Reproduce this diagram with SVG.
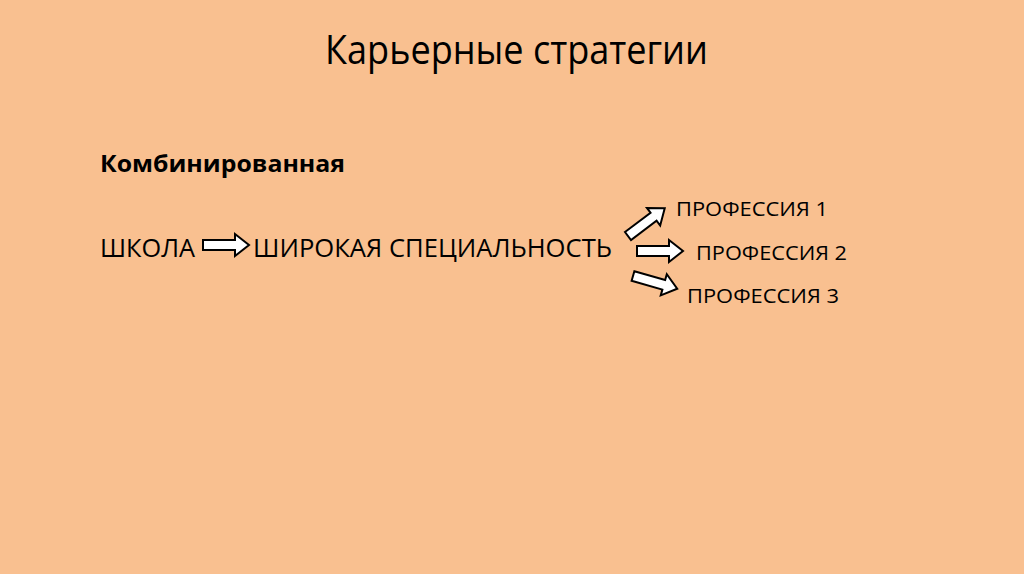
<svg xmlns="http://www.w3.org/2000/svg" xmlns:xlink="http://www.w3.org/1999/xlink" width="1024" height="574" viewBox="0 0 1024 574">
<style>
text{font-family:"Open Sans","Noto Sans","Liberation Sans",sans-serif;fill:#000}
.t{font-size:40px}
.b{font-size:23px;font-weight:bold}
.m{font-size:25px}
.s{font-size:19.5px}
.arr{fill:#fff;stroke:#000;stroke-width:2;stroke-linejoin:miter}
</style>
<defs>
<path id="ar" d="M0,-5 L32,-5 L32,-11 L46,0 L32,11 L32,5 L0,5 Z"/>
</defs>
<rect width="1024" height="574" fill="#F9C090"/>
<g id="title"><text class="t" x="325" y="64" textLength="383" lengthAdjust="spacingAndGlyphs">Карьерные стратегии</text></g>
<g id="subtitle"><text class="b" x="100" y="172" textLength="245" lengthAdjust="spacingAndGlyphs">Комбинированная</text></g>
<g id="school"><text class="m" x="100" y="257" textLength="95" lengthAdjust="spacingAndGlyphs">ШКОЛА</text></g>
<g id="broad"><text class="m" x="253" y="257" textLength="359" lengthAdjust="spacingAndGlyphs">ШИРОКАЯ СПЕЦИАЛЬНОСТЬ</text></g>
<g id="p1"><text class="s" x="676" y="216" textLength="152" lengthAdjust="spacingAndGlyphs">ПРОФЕССИЯ 1</text></g>
<g id="p2"><text class="s" x="696" y="260" textLength="151" lengthAdjust="spacingAndGlyphs">ПРОФЕССИЯ 2</text></g>
<g id="p3"><text class="s" x="687" y="303" textLength="152" lengthAdjust="spacingAndGlyphs">ПРОФЕССИЯ 3</text></g>
<g id="connectors">
<use xlink:href="#ar" class="arr" transform="translate(203,245)"/>
<use xlink:href="#ar" class="arr" transform="translate(628,236) rotate(-37)"/>
<use xlink:href="#ar" class="arr" transform="translate(637,251)"/>
<use xlink:href="#ar" class="arr" transform="translate(633,276) rotate(16)"/>
</g>
</svg>
